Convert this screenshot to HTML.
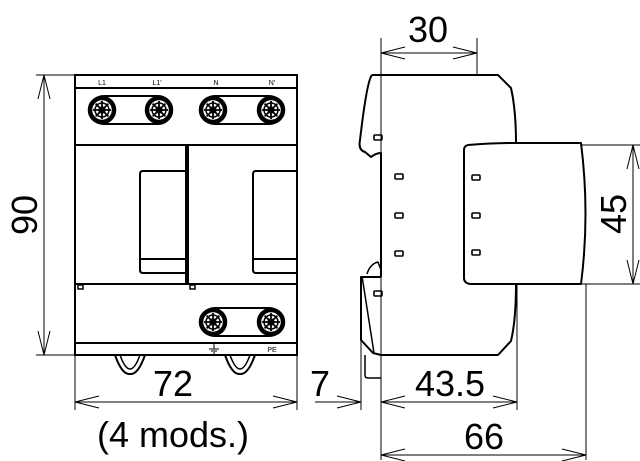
<!DOCTYPE html>
<html><head><meta charset="utf-8"><style>
html,body{margin:0;padding:0;background:#fff;}
svg{display:block;}
text{font-family:"Liberation Sans",sans-serif;fill:#000;}
</style></head><body>
<svg width="640" height="461" viewBox="0 0 640 461" xmlns="http://www.w3.org/2000/svg">
<defs>
<g id="term">
<circle r="12" fill="#fff" stroke="#000" stroke-width="4.5"/>
<circle r="7" fill="none" stroke="#000" stroke-width="1.5"/>
<circle r="3" fill="none" stroke="#000" stroke-width="1.3"/>
<g stroke="#000" stroke-width="1.8">
<line x1="0" y1="-9" x2="0" y2="9"/><line x1="-9" y1="0" x2="9" y2="0"/>
<line x1="-6.4" y1="-6.4" x2="6.4" y2="6.4"/><line x1="-6.4" y1="6.4" x2="6.4" y2="-6.4"/>
</g>
</g>
</defs>
<!-- front view -->
<g fill="none" stroke="#000" stroke-width="2">
<rect x="75" y="75" width="222" height="280"/>
<line x1="75" y1="88" x2="297" y2="88"/>
<line x1="75" y1="145" x2="297" y2="145"/>
<line x1="75" y1="284" x2="297" y2="284"/>
<line x1="75" y1="343" x2="297" y2="343"/>
<line x1="186" y1="145" x2="186" y2="284"/>
<line x1="188" y1="145" x2="188" y2="284"/>
<path d="M186 171 H143 Q140 171 140 174 V270 Q140 273 143 273 H186"/>
<line x1="140" y1="259" x2="186" y2="259"/>
<path d="M297 171 H256 Q253 171 253 174 V270 Q253 273 256 273 H297"/>
<line x1="253" y1="259" x2="297" y2="259"/>
<rect x="78" y="285" width="5" height="4" stroke-width="1.5"/>
<rect x="190" y="285" width="5" height="4" stroke-width="1.5"/>
<rect x="90" y="96" width="82" height="28" rx="14"/>
<rect x="201" y="96" width="82" height="28" rx="14"/>
<rect x="201" y="308" width="82" height="28" rx="14"/>
<path d="M115 355 Q122 375 130 374 Q138 375 145 355" />
<path d="M120 355 Q125 369 130 369 Q135 369 140 355" stroke-width="1.5"/>
<path d="M225 355 Q232 375 240 374 Q248 375 255 355" />
<path d="M230 355 Q235 369 240 369 Q245 369 250 355" stroke-width="1.5"/>
</g>
<use href="#term" x="102" y="110"/><use href="#term" x="159" y="110"/>
<use href="#term" x="213" y="110"/><use href="#term" x="271" y="110"/>
<use href="#term" x="213" y="322"/><use href="#term" x="271" y="322"/>
<g font-size="7" text-anchor="middle">
<text x="102" y="85">L1</text><text x="157" y="85">L1'</text>
<text x="216" y="85">N</text><text x="272" y="85">N'</text>
<text x="272" y="352">PE</text>
</g>
<g stroke="#000" stroke-width="1"><line x1="214" y1="344" x2="214" y2="349"/><line x1="209" y1="349" x2="219" y2="349"/><line x1="211" y1="351" x2="217" y2="351"/><line x1="213" y1="353" x2="215" y2="353"/></g>
<!-- side view -->
<g fill="none" stroke="#000" stroke-width="2" stroke-linejoin="round">
<path d="M372 75 H498 L511 88 Q516 110 516 143"/>
<path d="M516 284 Q516 320 511 341 L498 355 H381"/>
<path d="M372 75 Q367 80 360 140 Q358 150 365 152 L371 157 Q376 153 381 153 V277"/>
<path d="M381 277 H361 V340 L373 353 L381 355"/>
<path d="M362 276 L374 353" stroke-width="1.5"/>
<path d="M367 274 Q370 264 378 262 L381 270" stroke-width="1.5"/>
<path d="M365 355 V375 Q365 378 368 378 H381" stroke-width="1.5"/>
<path d="M468 145 Q464 146 464 150 V278 Q464 283 470 284 H581 Q590 214 581 143 H516 Q490 143 468 145 Z"/>
</g>
<g fill="#fff" stroke="#000" stroke-width="1.6">
<rect x="374" y="135" width="8" height="5" rx="1"/><rect x="374" y="291" width="8" height="5" rx="1"/>
<rect x="395" y="174" width="8" height="5" rx="1"/><rect x="395" y="213" width="8" height="5" rx="1"/><rect x="395" y="251" width="8" height="5" rx="1"/>
<rect x="472" y="175" width="8" height="5" rx="1"/><rect x="472" y="213" width="8" height="5" rx="1"/><rect x="472" y="250" width="8" height="5" rx="1"/>
</g>
<!-- dimension lines -->
<g fill="none" stroke="#000" stroke-width="1">
<line x1="36" y1="75" x2="75" y2="75"/><line x1="36" y1="355" x2="75" y2="355"/>
<line x1="44" y1="75" x2="44" y2="355"/>
<path d="M38 99 L44 75 L50 99"/><path d="M38 331 L44 355 L50 331"/>
<line x1="75" y1="355" x2="75" y2="410"/><line x1="297" y1="355" x2="297" y2="410"/>
<line x1="75" y1="402" x2="297" y2="402"/>
<path d="M99 396 L75 402 L99 408"/><path d="M273 396 L297 402 L273 408"/>
<line x1="315" y1="402" x2="361" y2="402"/><path d="M337 396 L361 402 L337 408"/>
<line x1="361" y1="340" x2="361" y2="410"/>
<line x1="381" y1="38" x2="381" y2="460"/>
<line x1="477" y1="38" x2="477" y2="75"/>
<line x1="381" y1="53" x2="477" y2="53"/>
<path d="M405 47 L381 53 L405 59"/><path d="M453 47 L477 53 L453 59"/>
<line x1="517" y1="284" x2="517" y2="410"/>
<line x1="381" y1="402" x2="517" y2="402"/>
<path d="M405 396 L381 402 L405 408"/><path d="M493 396 L517 402 L493 408"/>
<line x1="586" y1="284" x2="586" y2="460"/>
<line x1="381" y1="455" x2="586" y2="455"/>
<path d="M405 449 L381 455 L405 461"/><path d="M562 449 L586 455 L562 461"/>
<line x1="581" y1="145" x2="640" y2="145"/><line x1="581" y1="284" x2="640" y2="284"/>
<line x1="633" y1="145" x2="633" y2="284"/>
<path d="M627 169 L633 145 L639 169"/><path d="M627 260 L633 284 L639 260"/>
</g>
<g font-size="36" text-anchor="middle">
<text x="428" y="42">30</text>
<text x="173" y="396">72</text>
<text x="173" y="447">(4 mods.)</text>
<text x="320" y="396">7</text>
<text x="450" y="396">43.5</text>
<text x="484" y="449">66</text>
<text transform="translate(37 215) rotate(-90)">90</text>
<text transform="translate(626 214) rotate(-90)">45</text>
</g>
</svg>
</body></html>
